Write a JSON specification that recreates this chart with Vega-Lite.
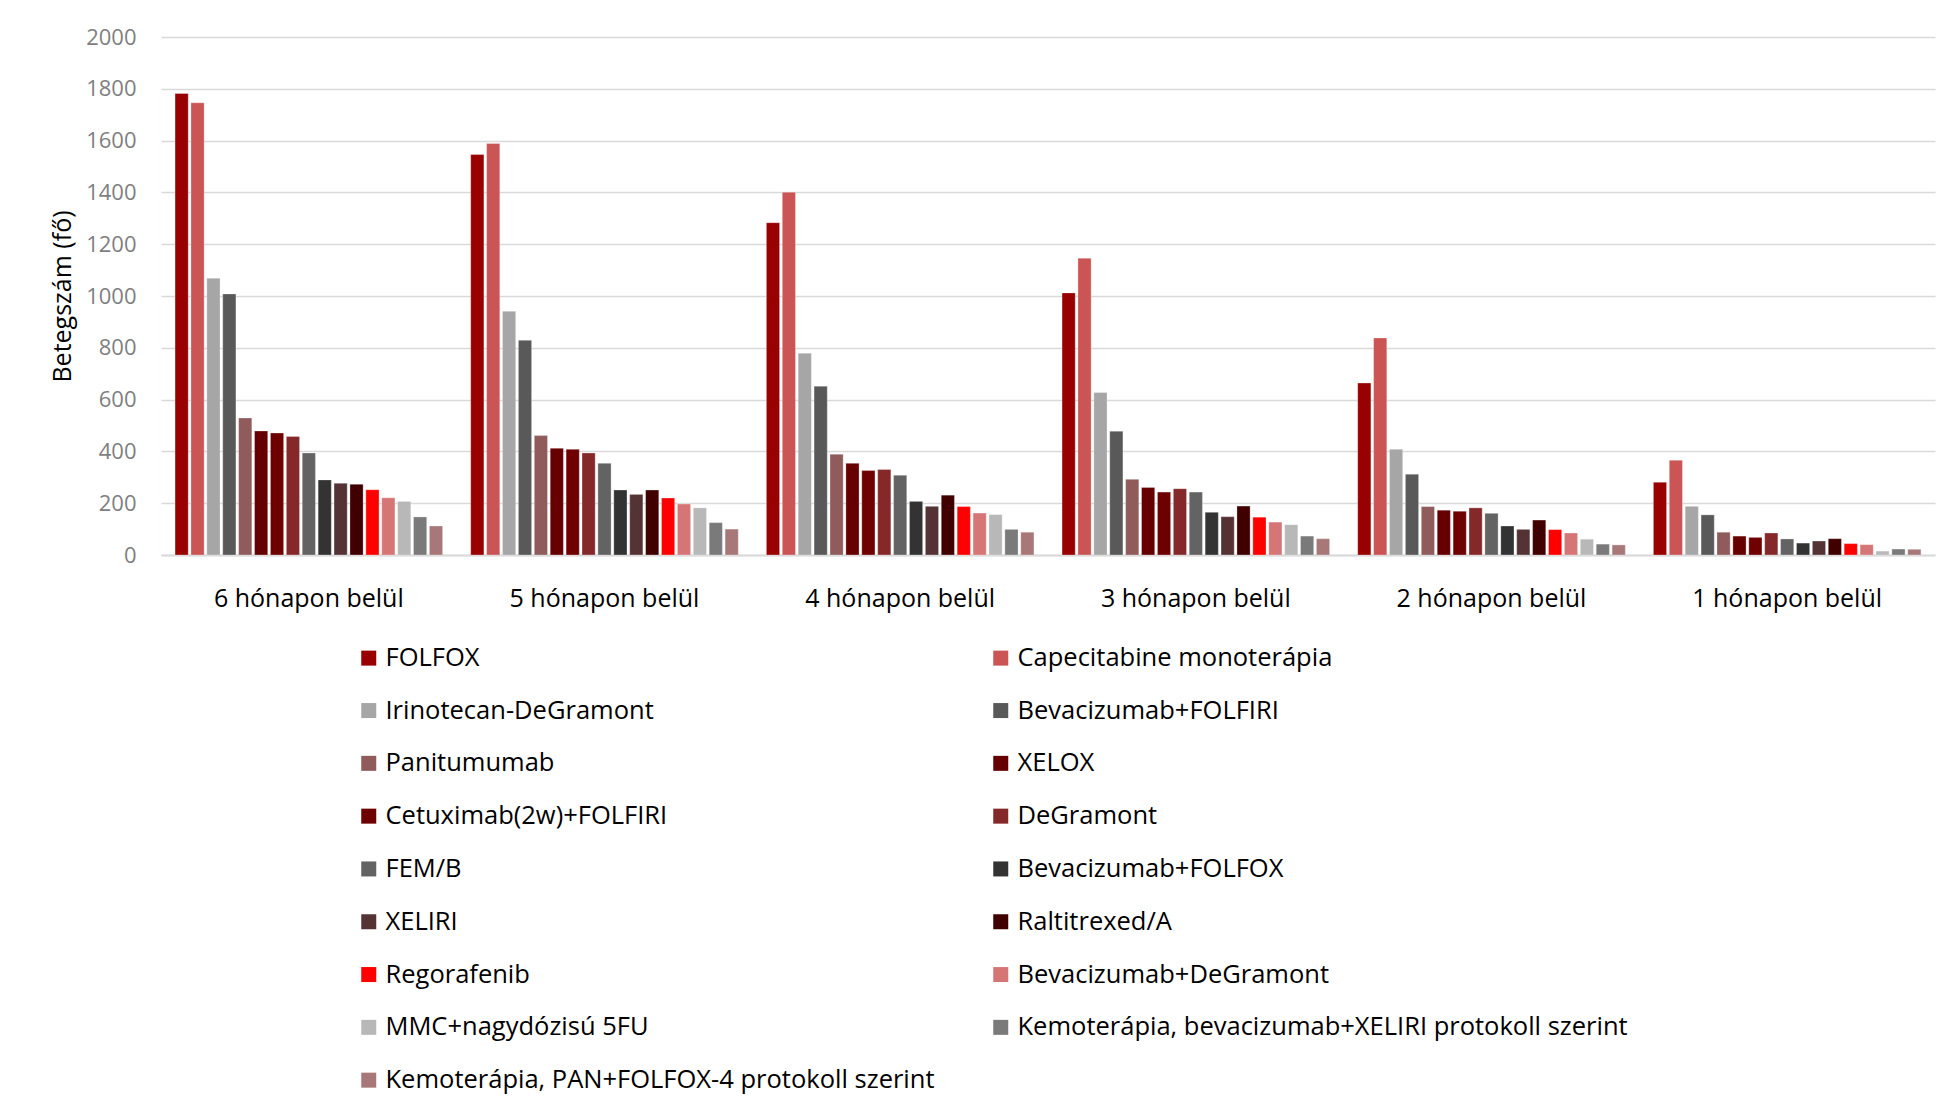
{
  "$schema": "https://vega.github.io/schema/vega-lite/v6.json",
  "autosize": {"type": "none"},
  "width": 1774,
  "height": 518,
  "padding": {"left": 161, "top": 37, "right": 6, "bottom": 557},
  "background": "white",
  "config": {
    "font": "Open Sans",
    "view": {"stroke": null}
  },
  "data": {"values": [
    {"p":"6 hónapon belül","t":"FOLFOX","v":1782},
    {"p":"6 hónapon belül","t":"Capecitabine monoterápia","v":1746},
    {"p":"6 hónapon belül","t":"Irinotecan-DeGramont","v":1069},
    {"p":"6 hónapon belül","t":"Bevacizumab+FOLFIRI","v":1008},
    {"p":"6 hónapon belül","t":"Panitumumab","v":529},
    {"p":"6 hónapon belül","t":"XELOX","v":479},
    {"p":"6 hónapon belül","t":"Cetuximab(2w)+FOLFIRI","v":471},
    {"p":"6 hónapon belül","t":"DeGramont","v":458},
    {"p":"6 hónapon belül","t":"FEM/B","v":394},
    {"p":"6 hónapon belül","t":"Bevacizumab+FOLFOX","v":290},
    {"p":"6 hónapon belül","t":"XELIRI","v":277},
    {"p":"6 hónapon belül","t":"Raltitrexed/A","v":273},
    {"p":"6 hónapon belül","t":"Regorafenib","v":252},
    {"p":"6 hónapon belül","t":"Bevacizumab+DeGramont","v":221},
    {"p":"6 hónapon belül","t":"MMC+nagydózisú 5FU","v":207},
    {"p":"6 hónapon belül","t":"Kemoterápia, bevacizumab+XELIRI protokoll szerint","v":147},
    {"p":"6 hónapon belül","t":"Kemoterápia, PAN+FOLFOX-4 protokoll szerint","v":112},
    {"p":"5  hónapon belül","t":"FOLFOX","v":1546},
    {"p":"5  hónapon belül","t":"Capecitabine monoterápia","v":1589},
    {"p":"5  hónapon belül","t":"Irinotecan-DeGramont","v":941},
    {"p":"5  hónapon belül","t":"Bevacizumab+FOLFIRI","v":829},
    {"p":"5  hónapon belül","t":"Panitumumab","v":461},
    {"p":"5  hónapon belül","t":"XELOX","v":412},
    {"p":"5  hónapon belül","t":"Cetuximab(2w)+FOLFIRI","v":408},
    {"p":"5  hónapon belül","t":"DeGramont","v":394},
    {"p":"5  hónapon belül","t":"FEM/B","v":354},
    {"p":"5  hónapon belül","t":"Bevacizumab+FOLFOX","v":251},
    {"p":"5  hónapon belül","t":"XELIRI","v":234},
    {"p":"5  hónapon belül","t":"Raltitrexed/A","v":251},
    {"p":"5  hónapon belül","t":"Regorafenib","v":220},
    {"p":"5  hónapon belül","t":"Bevacizumab+DeGramont","v":197},
    {"p":"5  hónapon belül","t":"MMC+nagydózisú 5FU","v":182},
    {"p":"5  hónapon belül","t":"Kemoterápia, bevacizumab+XELIRI protokoll szerint","v":125},
    {"p":"5  hónapon belül","t":"Kemoterápia, PAN+FOLFOX-4 protokoll szerint","v":100},
    {"p":"4 hónapon belül","t":"FOLFOX","v":1283},
    {"p":"4 hónapon belül","t":"Capecitabine monoterápia","v":1401},
    {"p":"4 hónapon belül","t":"Irinotecan-DeGramont","v":779},
    {"p":"4 hónapon belül","t":"Bevacizumab+FOLFIRI","v":652},
    {"p":"4 hónapon belül","t":"Panitumumab","v":389},
    {"p":"4 hónapon belül","t":"XELOX","v":354},
    {"p":"4 hónapon belül","t":"Cetuximab(2w)+FOLFIRI","v":326},
    {"p":"4 hónapon belül","t":"DeGramont","v":330},
    {"p":"4 hónapon belül","t":"FEM/B","v":308},
    {"p":"4 hónapon belül","t":"Bevacizumab+FOLFOX","v":207},
    {"p":"4 hónapon belül","t":"XELIRI","v":188},
    {"p":"4 hónapon belül","t":"Raltitrexed/A","v":231},
    {"p":"4 hónapon belül","t":"Regorafenib","v":187},
    {"p":"4 hónapon belül","t":"Bevacizumab+DeGramont","v":162},
    {"p":"4 hónapon belül","t":"MMC+nagydózisú 5FU","v":156},
    {"p":"4 hónapon belül","t":"Kemoterápia, bevacizumab+XELIRI protokoll szerint","v":99},
    {"p":"4 hónapon belül","t":"Kemoterápia, PAN+FOLFOX-4 protokoll szerint","v":88},
    {"p":"3 hónapon belül","t":"FOLFOX","v":1012},
    {"p":"3 hónapon belül","t":"Capecitabine monoterápia","v":1146},
    {"p":"3 hónapon belül","t":"Irinotecan-DeGramont","v":627},
    {"p":"3 hónapon belül","t":"Bevacizumab+FOLFIRI","v":478},
    {"p":"3 hónapon belül","t":"Panitumumab","v":292},
    {"p":"3 hónapon belül","t":"XELOX","v":261},
    {"p":"3 hónapon belül","t":"Cetuximab(2w)+FOLFIRI","v":243},
    {"p":"3 hónapon belül","t":"DeGramont","v":256},
    {"p":"3 hónapon belül","t":"FEM/B","v":243},
    {"p":"3 hónapon belül","t":"Bevacizumab+FOLFOX","v":165},
    {"p":"3 hónapon belül","t":"XELIRI","v":148},
    {"p":"3 hónapon belül","t":"Raltitrexed/A","v":189},
    {"p":"3 hónapon belül","t":"Regorafenib","v":146},
    {"p":"3 hónapon belül","t":"Bevacizumab+DeGramont","v":127},
    {"p":"3 hónapon belül","t":"MMC+nagydózisú 5FU","v":117},
    {"p":"3 hónapon belül","t":"Kemoterápia, bevacizumab+XELIRI protokoll szerint","v":73},
    {"p":"3 hónapon belül","t":"Kemoterápia, PAN+FOLFOX-4 protokoll szerint","v":63},
    {"p":"2 hónapon belül","t":"FOLFOX","v":664},
    {"p":"2 hónapon belül","t":"Capecitabine monoterápia","v":838},
    {"p":"2 hónapon belül","t":"Irinotecan-DeGramont","v":408},
    {"p":"2 hónapon belül","t":"Bevacizumab+FOLFIRI","v":312},
    {"p":"2 hónapon belül","t":"Panitumumab","v":187},
    {"p":"2 hónapon belül","t":"XELOX","v":173},
    {"p":"2 hónapon belül","t":"Cetuximab(2w)+FOLFIRI","v":169},
    {"p":"2 hónapon belül","t":"DeGramont","v":182},
    {"p":"2 hónapon belül","t":"FEM/B","v":161},
    {"p":"2 hónapon belül","t":"Bevacizumab+FOLFOX","v":112},
    {"p":"2 hónapon belül","t":"XELIRI","v":99},
    {"p":"2 hónapon belül","t":"Raltitrexed/A","v":135},
    {"p":"2 hónapon belül","t":"Regorafenib","v":98},
    {"p":"2 hónapon belül","t":"Bevacizumab+DeGramont","v":85},
    {"p":"2 hónapon belül","t":"MMC+nagydózisú 5FU","v":61},
    {"p":"2 hónapon belül","t":"Kemoterápia, bevacizumab+XELIRI protokoll szerint","v":42},
    {"p":"2 hónapon belül","t":"Kemoterápia, PAN+FOLFOX-4 protokoll szerint","v":39},
    {"p":"1 hónapon belül","t":"FOLFOX","v":281},
    {"p":"1 hónapon belül","t":"Capecitabine monoterápia","v":366},
    {"p":"1 hónapon belül","t":"Irinotecan-DeGramont","v":188},
    {"p":"1 hónapon belül","t":"Bevacizumab+FOLFIRI","v":155},
    {"p":"1 hónapon belül","t":"Panitumumab","v":88},
    {"p":"1 hónapon belül","t":"XELOX","v":73},
    {"p":"1 hónapon belül","t":"Cetuximab(2w)+FOLFIRI","v":68},
    {"p":"1 hónapon belül","t":"DeGramont","v":85},
    {"p":"1 hónapon belül","t":"FEM/B","v":62},
    {"p":"1 hónapon belül","t":"Bevacizumab+FOLFOX","v":46},
    {"p":"1 hónapon belül","t":"XELIRI","v":54},
    {"p":"1 hónapon belül","t":"Raltitrexed/A","v":63},
    {"p":"1 hónapon belül","t":"Regorafenib","v":44},
    {"p":"1 hónapon belül","t":"Bevacizumab+DeGramont","v":40},
    {"p":"1 hónapon belül","t":"MMC+nagydózisú 5FU","v":15},
    {"p":"1 hónapon belül","t":"Kemoterápia, bevacizumab+XELIRI protokoll szerint","v":23},
    {"p":"1 hónapon belül","t":"Kemoterápia, PAN+FOLFOX-4 protokoll szerint","v":22}
  ]},
  "mark": {"type": "bar", "stroke": "white", "strokeWidth": 0.6, "strokeOpacity": 0.5},
  "encoding": {
    "x": {
      "field": "p", "type": "nominal",
      "sort": ["6 hónapon belül","5  hónapon belül","4 hónapon belül","3 hónapon belül","2 hónapon belül","1 hónapon belül"],
      "scale": {"paddingInner": 0.095, "paddingOuter": 0.0475},
      "axis": {
        "title": null, "labelAngle": 0, "ticks": false,
        "domain": true, "domainColor": "#d9d9d9", "domainWidth": 2,
        "labelFontSize": 25, "labelColor": "#000000", "labelPadding": 31,
        "labelFont": "Open Sans", "labelLimit": 500
      }
    },
    "xOffset": {
      "field": "t", "type": "nominal",
      "sort": ["FOLFOX","Capecitabine monoterápia","Irinotecan-DeGramont","Bevacizumab+FOLFIRI","Panitumumab","XELOX","Cetuximab(2w)+FOLFIRI","DeGramont","FEM/B","Bevacizumab+FOLFOX","XELIRI","Raltitrexed/A","Regorafenib","Bevacizumab+DeGramont","MMC+nagydózisú 5FU","Kemoterápia, bevacizumab+XELIRI protokoll szerint","Kemoterápia, PAN+FOLFOX-4 protokoll szerint"],
      "scale": {"paddingInner": 0.17, "paddingOuter": 0}
    },
    "y": {
      "field": "v", "type": "quantitative",
      "scale": {"domain": [0, 2000], "nice": false},
      "axis": {
        "values": [0,200,400,600,800,1000,1200,1400,1600,1800,2000],
        "format": "d",
        "grid": true, "gridColor": "#d9d9d9", "gridWidth": 1.5,
        "domain": false, "ticks": false,
        "labelFontSize": 22, "labelColor": "#7f7f7f", "labelPadding": 25,
        "title": "Betegszám (fő)", "titleFontSize": 25, "titleFontWeight": "normal",
        "titleColor": "#000000", "titlePadding": 10
      }
    },
    "color": {
      "field": "t", "type": "nominal",
      "scale": {
        "domain": ["FOLFOX","Capecitabine monoterápia","Irinotecan-DeGramont","Bevacizumab+FOLFIRI","Panitumumab","XELOX","Cetuximab(2w)+FOLFIRI","DeGramont","FEM/B","Bevacizumab+FOLFOX","XELIRI","Raltitrexed/A","Regorafenib","Bevacizumab+DeGramont","MMC+nagydózisú 5FU","Kemoterápia, bevacizumab+XELIRI protokoll szerint","Kemoterápia, PAN+FOLFOX-4 protokoll szerint"],
        "range": ["#990000","#cb5455","#a6a6a6","#595959","#8f5b5b","#660000","#6f0000","#852829","#636363","#333333","#553335","#400000","#ff0000","#d67575","#b8b8b8","#7a7a7a","#a87878"]
      },
      "legend": {
        "title": null, "orient": "none", "legendX": 195, "legendY": 608,
        "values": ["FOLFOX","Irinotecan-DeGramont","Panitumumab","Cetuximab(2w)+FOLFIRI","FEM/B","XELIRI","Regorafenib","MMC+nagydózisú 5FU","Kemoterápia, PAN+FOLFOX-4 protokoll szerint","Capecitabine monoterápia","Bevacizumab+FOLFIRI","XELOX","DeGramont","Bevacizumab+FOLFOX","Raltitrexed/A","Bevacizumab+DeGramont","Kemoterápia, bevacizumab+XELIRI protokoll szerint"],
        "columns": 2, "columnPadding": 53, "rowPadding": 25.8,
        "symbolType": "square", "symbolSize": 225, "symbolStrokeWidth": 0,
        "labelFontSize": 25.5, "labelColor": "#000000", "labelLimit": 900,
        "labelOffset": 4, "labelFont": "Open Sans"
      }
    }
  }
}
